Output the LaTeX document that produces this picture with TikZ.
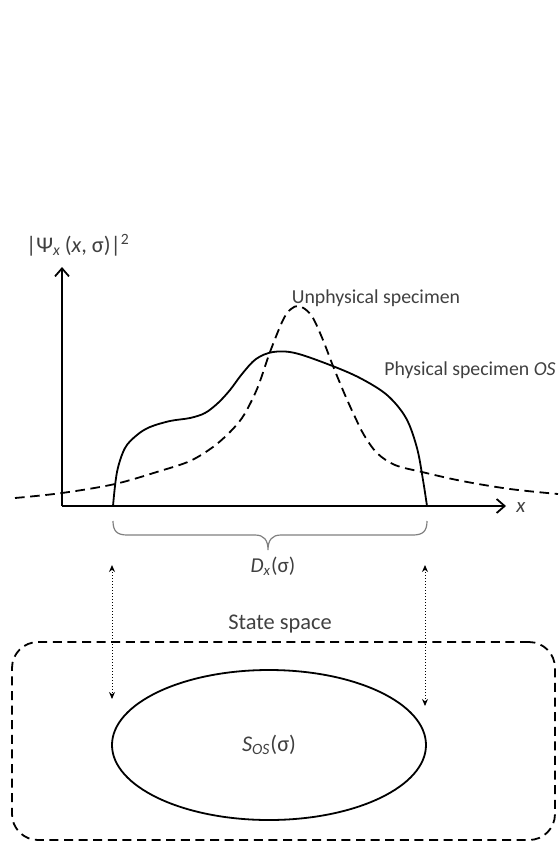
\documentclass[tikz,border=0pt]{standalone}
\usepackage{fontspec}
\setmainfont{Carlito}
\usetikzlibrary{arrows.meta,shapes.geometric}
\definecolor{txt}{HTML}{404040}
\begin{document}
\begin{tikzpicture}[x=0.5pt,y=-0.5pt,
  lbl/.style={text=txt,inner sep=0pt,font=\fontsize{9.9}{11}\selectfont},
  biglbl/.style={text=txt,inner sep=0pt,font=\fontsize{11.2}{13}\selectfont},
  axisline/.style={line width=0.9pt,-{Straight Barb[length=4pt,width=7pt,line width=0.9pt]}},
  physcurve/.style={line width=0.9pt},
  unphyscurve/.style={line width=0.9pt,dash pattern=on 4.8pt off 2.8pt},
  bracepath/.style={line width=0.6pt,draw=black!50},
  link/.style={line width=0.5pt,densely dotted,{Stealth[length=3.5pt,width=3pt]}-{Stealth[length=3.5pt,width=3pt]}},
  statebox/.style={draw,line width=0.9pt,dash pattern=on 4.5pt off 2.8pt,rounded corners=13pt,minimum width=271.5pt,minimum height=99pt,inner sep=0pt},
  setellipse/.style={draw,ellipse,line width=0.9pt,minimum width=157pt,minimum height=75pt,inner sep=0pt}
]
\useasboundingbox (0,0) rectangle (558,842);

% axes
\coordinate (O) at (62,506);
\coordinate (ytip) at (62,267);
\coordinate (xtip) at (506,506);
\draw[axisline] (O) -- (ytip);
\draw[axisline] (O) -- (xtip);
\node[lbl,font=\fontsize{10.4}{12}\selectfont] (xlabel) at (521,508) {\textit{x}};
\node[lbl,font=\fontsize{11.2}{13}\selectfont] (ylabel) at (78,245) {|Ψ\textsubscript{\textit{x}}\,(\textit{x}, σ)|\textsuperscript{2}};

% unphysical (dashed) curve
\draw[unphyscurve] plot[smooth,tension=0.55] coordinates {
 (15,498) (62,493) (115,484) (160,471) (190,461) (213,447) (230,432) (242,418)
 (251,402) (259,384) (270,352) (283,320) (291,309) (298,306) (305,309) (313,318)
 (323,340) (333,366) (345,395) (355,417) (364,435) (377,453) (395,465) (422,472)
 (462,481) (510,489) (558,494)};

% physical (solid) curve
\draw[physcurve] plot[smooth,tension=0.55] coordinates {
 (113,506) (117,472) (125,448) (137,435) (150,427) (170,421) (190,418) (205,413)
 (218,403) (230,390) (242,374) (256,359) (273,352) (295,353) (330,365) (360,378)
 (387,395) (406,418) (417,448) (423,480) (427,506)};

\node[lbl] (unphys) at (376,298) {Unphysical specimen};
\node[lbl] (phys) at (470,370) {Physical specimen \textit{OS}};

% brace
\draw[bracepath] (113,521) .. controls (113,531) and (117,535) .. (127,535)
  -- (255,535) .. controls (264,535) and (268,540) .. (268,550)
  .. controls (268,540) and (272,535) .. (281,535)
  -- (413,535) .. controls (423,535) and (427,531) .. (427,521);
\node[lbl,font=\fontsize{10.6}{12}\selectfont] (dlabel) at (273,566) {\textit{D\textsubscript{x}}(σ)};

% state space
\node[biglbl] (sslabel) at (280,624) {State space};
\node[statebox] (ss) at (283.5,741) {};
\node[setellipse,font=\fontsize{11.2}{13}\selectfont,text=txt] (sos) at (269,745) {\textit{S\textsubscript{OS}}(σ)};

% dotted links
\coordinate (la) at (112,565);
\coordinate (lb) at (112,699);
\coordinate (ra) at (425,565);
\coordinate (rb) at (425,706);
\draw[link] (la) -- (lb);
\draw[link] (ra) -- (rb);
\end{tikzpicture}
\end{document}
